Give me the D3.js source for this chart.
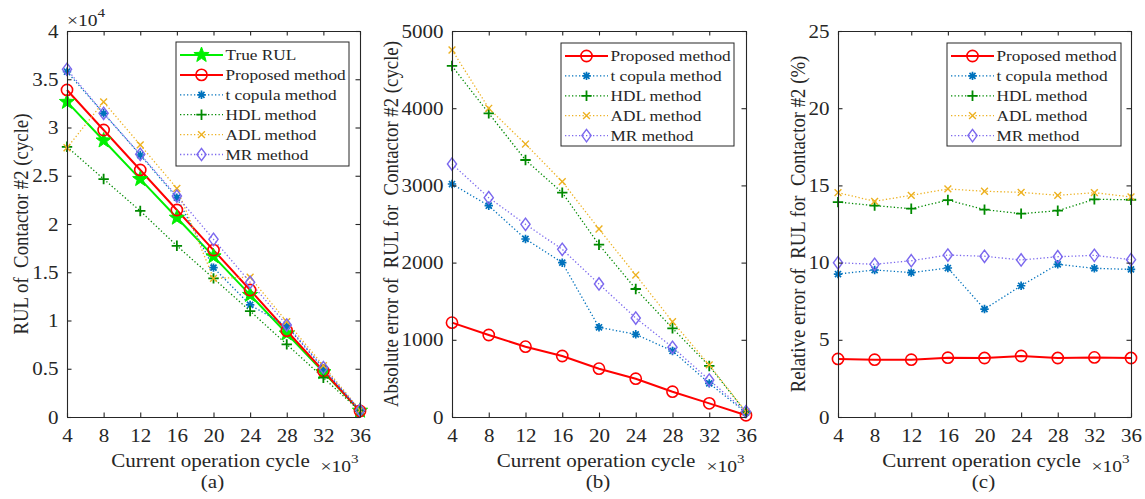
<!DOCTYPE html>
<html>
<head>
<meta charset="utf-8">
<script src="https://cdn.jsdelivr.net/npm/d3@7"></script>
<style>
  html, body { margin: 0; padding: 0; background: #fff; }
  svg { display: block; }
  text { font-family: "Liberation Serif", "Times New Roman", serif; fill: #262626; }
</style>
</head>
<body>
<svg id="chart" width="1145" height="499"></svg>
<script>
// Current operation cycle (x 10^3)
const cycles = [4, 8, 12, 16, 20, 24, 28, 32, 36];

// (a) RUL of contactor #2 (cycle)
const rulTrue     = [32650, 28650, 24650, 20650, 16650, 12650, 8650, 4650, 650];
const rulProposed = [33890, 29740, 25600, 21450, 17300, 13160, 8940, 4770, 620];
const rulTCopula  = [35780, 31470, 27150, 22730, 15480, 11610, 9430, 5040, 620];
const rulHDL      = [28000, 24660, 21350, 17740, 14370, 10980, 7530, 4070, 600];
const rulADL      = [27900, 32650, 28190, 23700, 14370, 14480, 9880, 5320, 720];
const rulMR       = [36030, 31470, 27220, 22900, 18410, 13960, 9530, 5110, 700];

// (b) Absolute error (cycle)
const absProposed = [1222, 1062, 911, 790, 626, 496, 328, 177, 22];
const absTCopula  = [3018, 2737, 2306, 1999, 1162, 1071, 855, 436, 56];
const absHDL      = [4547, 3934, 3329, 2906, 2232, 1658, 1149, 661, 61];
const absADL      = [4754, 3999, 3536, 3048, 2435, 1839, 1234, 674, 69];
const absMR       = [3277, 2841, 2496, 2172, 1723, 1282, 903, 479, 69];

// (c) Relative error (%)
const relProposed = [3.76, 3.71, 3.71, 3.84, 3.82, 3.95, 3.82, 3.86, 3.82];
const relTCopula  = [9.26, 9.52, 9.35, 9.65, 6.99, 8.50, 9.89, 9.63, 9.56];
const relHDL      = [13.92, 13.69, 13.49, 14.05, 13.43, 13.17, 13.36, 14.10, 14.07];
const relADL      = [14.53, 13.97, 14.36, 14.77, 14.62, 14.55, 14.36, 14.53, 14.25];
const relMR       = [9.99, 9.89, 10.12, 10.49, 10.41, 10.17, 10.38, 10.47, 10.19];

// Tick values
const xTicks  = [4, 8, 12, 16, 20, 24, 28, 32, 36];
const yTicksA = [0, 5000, 10000, 15000, 20000, 25000, 30000, 35000, 40000];
const yTicksB = [0, 1000, 2000, 3000, 4000, 5000];
const yTicksC = [0, 5, 10, 15, 20, 25];

// Series styling
const styles = {
  "True RUL":        { color: "#00f000", width: 2.0, dash: null,  marker: "star" },
  "Proposed method": { color: "#ff0000", width: 2.0, dash: null,  marker: "circle" },
  "t copula method": { color: "#0072bd", width: 1.3, dash: "1.3,2.2", marker: "asterisk" },
  "HDL method":      { color: "#008a00", width: 1.3, dash: "1.3,2.2", marker: "plus" },
  "ADL method":      { color: "#edb120", width: 1.3, dash: "1.3,2.2", marker: "cross" },
  "MR method":       { color: "#7b68ee", width: 1.3, dash: "1.3,2.2", marker: "diamond" }
};

const SX = 1.12;          // horizontal widening of lettering
const FS = 18.8;          // main font size
const FS_LEG = 15.4;      // legend font size

const svg = d3.select("#chart");
const TOP = 31, BOTTOM = 417;

// widen a text element horizontally about its anchor point
function widen(sel) {
  sel.each(function () {
    const t = d3.select(this);
    const x = +t.attr("x") || 0, y = +t.attr("y") || 0;
    t.attr("transform", `translate(${x},${y}) scale(${SX},1) translate(${-x},${-y})`);
  });
}

function drawMarker(g, type, x, y, color) {
  if (type === "circle") {
    g.append("circle").attr("cx", x).attr("cy", y).attr("r", 5.6)
      .attr("fill", "none").attr("stroke", color).attr("stroke-width", 1.6);
  } else if (type === "star") {
    const pts = [];
    for (let i = 0; i < 10; i++) {
      const r = i % 2 === 0 ? 8 : 3.3;
      const a = -Math.PI / 2 + i * Math.PI / 5;
      pts.push([x + r * Math.cos(a), y + r * Math.sin(a)]);
    }
    g.append("path").attr("d", d3.line()(pts) + "Z")
      .attr("fill", color).attr("stroke", color).attr("stroke-width", 1);
  } else if (type === "asterisk") {
    const r = 4.2, d = r * 0.72;
    const p = `M${x - r},${y}L${x + r},${y}M${x},${y - r}L${x},${y + r}` +
              `M${x - d},${y - d}L${x + d},${y + d}M${x - d},${y + d}L${x + d},${y - d}`;
    g.append("path").attr("d", p).attr("stroke", color).attr("stroke-width", 1.7).attr("fill", "none");
  } else if (type === "plus") {
    const r = 5.2;
    g.append("path").attr("d", `M${x - r},${y}L${x + r},${y}M${x},${y - r}L${x},${y + r}`)
      .attr("stroke", color).attr("stroke-width", 1.8).attr("fill", "none");
  } else if (type === "cross") {
    const r = 3.4;
    g.append("path").attr("d", `M${x - r},${y - r}L${x + r},${y + r}M${x - r},${y + r}L${x + r},${y - r}`)
      .attr("stroke", color).attr("stroke-width", 1.4).attr("fill", "none");
  } else if (type === "diamond") {
    const w = 4.6, h = 6.2;
    g.append("path").attr("d", `M${x},${y - h}L${x + w},${y}L${x},${y + h}L${x - w},${y}Z`)
      .attr("stroke", color).attr("stroke-width", 1.4).attr("fill", "none");
  }
}

// "×10^n" exponent label
function exponent(g, x, y, n) {
  const t = g.append("text").attr("x", x).attr("y", y).attr("font-size", 17.5);
  t.append("tspan").text("\u00d710");
  t.append("tspan").attr("dy", -9).attr("font-size", 13.5).text(n);
  widen(t);
}

function drawPanel(cfg) {
  const g = svg.append("g");
  const x = d3.scaleLinear().domain([4, 36]).range([cfg.left, cfg.right]);
  const y = d3.scaleLinear().domain(cfg.yDomain).range([BOTTOM, TOP]);

  g.append("rect").attr("x", cfg.left).attr("y", TOP)
    .attr("width", cfg.right - cfg.left).attr("height", BOTTOM - TOP).attr("fill", "#fff");

  // series: lines first, then markers
  cfg.series.forEach(s => {
    const st = styles[s.name];
    const line = d3.line().x((d, i) => x(cycles[i])).y(d => y(d));
    g.append("path").datum(s.values).attr("d", line)
      .attr("fill", "none").attr("stroke", st.color).attr("stroke-width", st.width)
      .attr("stroke-dasharray", st.dash);
  });
  cfg.series.forEach(s => {
    const st = styles[s.name];
    s.values.forEach((v, i) => drawMarker(g, st.marker, x(cycles[i]), y(v), st.color));
  });

  // box axes with inward ticks
  const tickLen = 4.5;
  const axB = d3.axisBottom(x).tickValues(xTicks).tickSizeInner(-tickLen).tickSizeOuter(0).tickPadding(12);
  const axT = d3.axisTop(x).tickValues(xTicks).tickSizeInner(-tickLen).tickSizeOuter(0).tickFormat("");
  const axL = d3.axisLeft(y).tickValues(cfg.yTicks).tickSizeInner(-tickLen).tickSizeOuter(0)
    .tickPadding(8.5).tickFormat(cfg.yFormat);
  const axR = d3.axisRight(y).tickValues(cfg.yTicks).tickSizeInner(-tickLen).tickSizeOuter(0).tickFormat("");

  const styleAxis = sel => {
    sel.select(".domain").attr("stroke", "#262626").attr("stroke-width", 1.1);
    sel.selectAll(".tick line").attr("stroke", "#262626").attr("stroke-width", 1.1);
    sel.selectAll(".tick text").attr("font-size", FS).attr("fill", "#262626")
      .style("font-family", '"Liberation Serif", serif').call(widen);
  };
  g.append("g").attr("transform", `translate(0,${BOTTOM})`).call(axB).call(styleAxis);
  g.append("g").attr("transform", `translate(0,${TOP})`).call(axT).call(styleAxis);
  g.append("g").attr("transform", `translate(${cfg.left},0)`).call(axL).call(styleAxis);
  g.append("g").attr("transform", `translate(${cfg.right},0)`).call(axR).call(styleAxis);

  // x label and exponent
  g.append("text").attr("x", (cfg.left + cfg.right) / 2 - 3).attr("y", 467)
    .attr("text-anchor", "middle").attr("font-size", FS).text("Current operation cycle").call(widen);
  exponent(g, cfg.right - 39.5, 472, "3");

  // y label (rotated; widening the screen x stretches glyph height)
  g.append("text")
    .attr("transform", `translate(${cfg.ylabelX},${(TOP + BOTTOM) / 2}) scale(${SX},1) rotate(-90)`)
    .attr("text-anchor", "middle").attr("font-size", FS)
    .style("white-space", "pre").text(cfg.ylabel);

  // panel tag
  g.append("text").attr("x", (cfg.left + cfg.right) / 2 - 1).attr("y", 488)
    .attr("text-anchor", "middle").attr("font-size", FS).text(cfg.tag).call(widen);

  // legend
  const L = cfg.legend;
  const lg = g.append("g");
  lg.append("rect").attr("x", L.x).attr("y", L.y).attr("width", L.w).attr("height", L.h)
    .attr("fill", "#fff").attr("stroke", "#262626").attr("stroke-width", 1);
  cfg.series.forEach((s, i) => {
    const st = styles[s.name];
    const cy = L.y + 13 + i * 19.9;
    lg.append("line").attr("x1", L.x + 4).attr("x2", L.x + 47).attr("y1", cy).attr("y2", cy)
      .attr("stroke", st.color).attr("stroke-width", st.width).attr("stroke-dasharray", st.dash);
    drawMarker(lg, st.marker, L.x + 25.5, cy, st.color);
    lg.append("text").attr("x", L.x + 49.5).attr("y", cy + 5.3).attr("font-size", FS_LEG)
      .text(s.name).call(widen);
  });

  return g;
}

const gA = drawPanel({
  left: 67, right: 360, yDomain: [0, 40000], yTicks: yTicksA,
  yFormat: d => d / 10000,
  ylabel: "RUL of  Contactor #2 (cycle)", ylabelX: 28, tag: "(a)",
  legend: { x: 176, y: 42, w: 173, h: 124 },
  series: [
    { name: "True RUL", values: rulTrue },
    { name: "Proposed method", values: rulProposed },
    { name: "t copula method", values: rulTCopula },
    { name: "HDL method", values: rulHDL },
    { name: "ADL method", values: rulADL },
    { name: "MR method", values: rulMR }
  ]
});
exponent(gA, 67, 26, "4");

drawPanel({
  left: 452, right: 746, yDomain: [0, 5000], yTicks: yTicksB,
  yFormat: d3.format("d"),
  ylabel: "Absolute error of  RUL for  Contactor #2 (cycle)", ylabelX: 398, tag: "(b)",
  legend: { x: 561, y: 43, w: 173, h: 103 },
  series: [
    { name: "Proposed method", values: absProposed },
    { name: "t copula method", values: absTCopula },
    { name: "HDL method", values: absHDL },
    { name: "ADL method", values: absADL },
    { name: "MR method", values: absMR }
  ]
});

drawPanel({
  left: 838, right: 1131, yDomain: [0, 25], yTicks: yTicksC,
  yFormat: d3.format("d"),
  ylabel: "Relative error of  RUL for  Contactor #2 (%)", ylabelX: 805, tag: "(c)",
  legend: { x: 947, y: 43, w: 174, h: 103 },
  series: [
    { name: "Proposed method", values: relProposed },
    { name: "t copula method", values: relTCopula },
    { name: "HDL method", values: relHDL },
    { name: "ADL method", values: relADL },
    { name: "MR method", values: relMR }
  ]
});
</script>
</body>
</html>
